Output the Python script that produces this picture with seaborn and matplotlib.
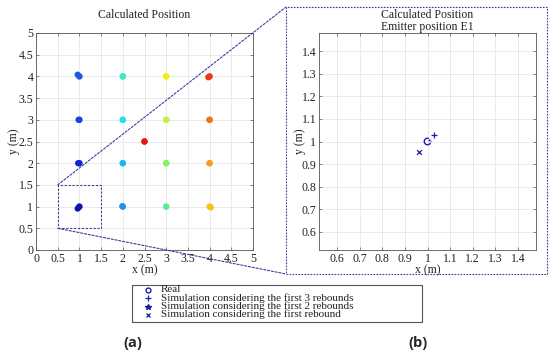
import matplotlib
matplotlib.use("Agg")
import matplotlib.pyplot as plt
import seaborn as sns
import pandas as pd
from matplotlib.patches import Rectangle, ConnectionPatch
from matplotlib.lines import Line2D

# emitter grid (real positions) and colours
real_x = [1, 1, 1, 1, 2, 2, 2, 2, 3, 3, 3, 3, 4, 4, 4, 4, 2.5]
real_y = [1, 2, 3, 4, 1, 2, 3, 4, 1, 2, 3, 4, 1, 2, 3, 4, 2.5]
# estimated positions (first rebound) - small offsets visible as blobs
sim1_x = [0.96, 0.97, 0.98, 0.96, 1.99, 2.0, 2.0, 2.0, 3.0, 3.0, 3.0, 3.0, 4.03, 4.0, 4.0, 3.97, 2.5]
sim1_y = [0.955, 2.0, 3.0, 4.04, 1.01, 2.0, 3.0, 4.0, 1.0, 2.0, 3.0, 4.0, 0.98, 2.0, 3.0, 3.98, 2.5]
emitter_colors = ["#0c10b0", "#1424d8", "#1a42e0", "#1a5ae0",
                  "#1e90f0", "#20b8f0", "#22e0f2", "#3ee8c4",
                  "#5cf096", "#8cf064", "#c4f040", "#f4ee10",
                  "#f4c418", "#f4a018", "#f07418", "#e83a14", "#e01818"]

# zoom on emitter E1
e1_real = (1.0, 1.0)
e1_sim3 = (1.03, 1.027)
e1_sim2 = (1.005, 1.005)
e1_sim1 = (0.962, 0.955)
legend_labels = ["Real",
                 "Simulation considering the first 3 rebounds",
                 "Simulation considering the first 2 rebounds",
                 "Simulation considering the first rebound"]

left_ticks = [0, 0.5, 1, 1.5, 2, 2.5, 3, 3.5, 4, 4.5, 5]
right_ticks = [0.6, 0.7, 0.8, 0.9, 1, 1.1, 1.2, 1.3, 1.4]

sns.set_theme(style="whitegrid")
plt.rcParams['font.family'] = ['Liberation Serif', 'DejaVu Serif']

W, H = 550, 357
fig = plt.figure(figsize=(5.5, 3.57), dpi=100)
fig.patch.set_facecolor("white")

def px(x0, y0, x1, y1):
    return [x0 / W, 1 - y1 / H, (x1 - x0) / W, (y1 - y0) / H]

ax1 = fig.add_axes(px(36, 33, 253, 250))
ax2 = fig.add_axes(px(319, 33, 536, 250))

mk = "#1c1ca8"
dash_c = "#3c3c9c"

def style(ax, lim, ticks, xpad, ypad):
    ax.set_facecolor("white")
    ax.set_xlim(*lim)
    ax.set_ylim(*lim)
    ax.set_xticks(ticks)
    ax.set_yticks(ticks)
    ax.set_xticklabels([f"{t:g}" for t in ticks])
    ax.set_yticklabels([f"{t:g}" for t in ticks])
    ax.grid(True, color="#e6e6e6", linewidth=0.6)
    for s in ax.spines.values():
        s.set_color("#555555")
        s.set_linewidth(0.6)
        s.set_visible(True)
    ax.tick_params(axis="both", direction="in", length=2.5, width=0.5,
                   colors="#555555", labelcolor="#222222", labelsize=8.5,
                   pad=2, top=True, right=True, bottom=True, left=True)
    ax.set_xlabel("x (m)", fontsize=8.5, labelpad=xpad, color="#222222")
    ax.set_ylabel("y (m)", fontsize=8.5, labelpad=ypad, color="#222222")

# left panel
df_real = pd.DataFrame({"x": real_x, "y": real_y, "e": range(len(real_x))})
df_sim = pd.DataFrame({"x": sim1_x, "y": sim1_y, "e": range(len(sim1_x))})
sns.scatterplot(data=df_sim, x="x", y="y", hue="e", palette=emitter_colors,
                s=20, marker="o", linewidth=0, legend=False, ax=ax1)
sns.scatterplot(data=df_real, x="x", y="y", hue="e", palette=emitter_colors,
                s=22, marker="o", linewidth=0, legend=False, ax=ax1)
style(ax1, (0, 5), left_ticks, 0, -1)
ax1.set_title("Calculated Position", fontsize=8.5, pad=11, color="#222222")
ax1.add_patch(Rectangle((0.5, 0.5), 1, 1, fill=False, edgecolor=dash_c,
                        linestyle=(0, (2, 1.5)), linewidth=0.8))

# right panel
sns.scatterplot(x=[e1_real[0]], y=[e1_real[1]], marker="o", s=22,
                facecolor="none", edgecolor=mk, linewidth=1.0, ax=ax2)
sns.scatterplot(x=[e1_sim3[0]], y=[e1_sim3[1]], marker="+", s=22,
                color=mk, linewidth=0.9, ax=ax2)
sns.scatterplot(x=[e1_sim2[0]], y=[e1_sim2[1]], marker="*", s=18,
                color=mk, linewidth=0.5, ax=ax2)
sns.scatterplot(x=[e1_sim1[0]], y=[e1_sim1[1]], marker="x", s=12,
                color=mk, linewidth=0.9, ax=ax2)
style(ax2, (0.52, 1.48), right_ticks, -0.3, -3)
ax2.set_title("Calculated Position\nEmitter position E1", fontsize=8.5,
              pad=2, color="#222222", linespacing=1.05)

# dashed frame around the zoom panel and connectors
bx0, by0, bx1, by1 = 286, 7, 547, 274
fig.add_artist(Rectangle((bx0 / W, 1 - by1 / H), (bx1 - bx0) / W, (by1 - by0) / H,
                         transform=fig.transFigure, fill=False, edgecolor=dash_c,
                         linestyle=(0, (1.5, 1.2)), linewidth=0.8))
for (dx, dy), (fx, fy) in [((0.5, 1.5), (bx0, by0)), ((0.5, 0.5), (bx0, by1))]:
    con = ConnectionPatch(xyA=(dx, dy), coordsA=ax1.transData,
                          xyB=(fx / W, 1 - fy / H), coordsB=fig.transFigure,
                          color=dash_c, linestyle=(0, (2, 1.5)), linewidth=0.8)
    fig.add_artist(con)

# legend, laid out by hand: the rows are tighter than matplotlib's legend allows
lx0, ly0, lx1, ly1 = 132, 285, 422, 322
fig.add_artist(Rectangle((lx0 / W, 1 - ly1 / H), (lx1 - lx0) / W, (ly1 - ly0) / H,
                         transform=fig.transFigure, fill=False,
                         edgecolor="#555555", linewidth=0.8))
marker_styles = [
    dict(marker="o", markersize=3.5, markerfacecolor="none",
         markeredgecolor=mk, markeredgewidth=1.0),
    dict(marker="+", markersize=4, color=mk, markeredgewidth=0.9),
    dict(marker="*", markersize=4, color=mk),
    dict(marker="x", markersize=3, color=mk, markeredgewidth=0.9),
]
row_y = [290, 298.3, 306.6, 315]
for yy, lab, ms in zip(row_y, legend_labels, marker_styles):
    fig.add_artist(Line2D([148 / W], [1 - yy / H], linestyle="none",
                          transform=fig.transFigure, **ms))
    fig.text(161 / W, 1 - (yy - 0.5) / H, lab, ha="left", va="center",
             fontsize=8, color="#222222")

fig.text(133 / W, 1 - 343 / H, "(a)", ha="center", va="center",
         fontsize=10.5, fontweight="bold", family=["Open Sans", "DejaVu Sans"])
fig.text(418 / W, 1 - 343 / H, "(b)", ha="center", va="center",
         fontsize=10.5, fontweight="bold", family=["Open Sans", "DejaVu Sans"])

fig.savefig("out.png", dpi=100, facecolor="white")
